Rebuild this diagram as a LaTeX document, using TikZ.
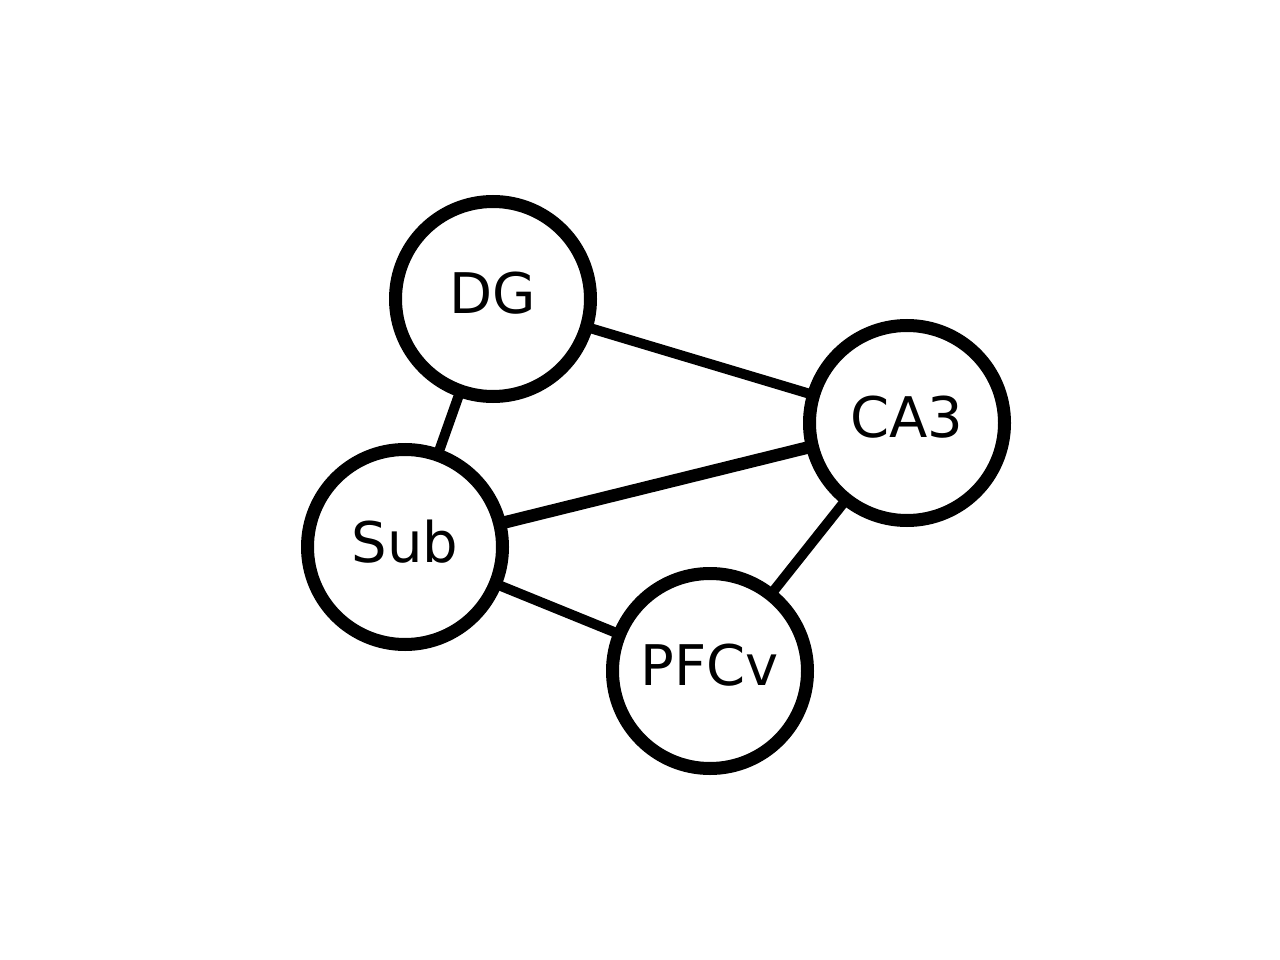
\documentclass[tikz,border=0pt]{standalone}
\usepackage{fontspec}
\setmainfont{DejaVu Sans}
\usetikzlibrary{backgrounds}
\tikzset{
  region/.style={circle, draw=black, fill=white, line width=13pt, minimum size=195pt, inner sep=0pt,
    text depth=12pt, font=\fontsize{56pt}{60pt}\selectfont},
  link/.style={draw=black, line width=10pt},
  strong link/.style={link, line width=12.5pt}
}
\begin{document}
\begin{tikzpicture}[x=1pt,y=-1pt]
\path[use as bounding box] (0,0) rectangle (1280,960);
\node[region] (DG) at (493,299) {DG};
\node[region] (CA3) at (907,423) {CA3};
\node[region] (Sub) at (405,547) {Sub};
\node[region] (PFCv) at (710,671) {PFCv};
\begin{scope}[on background layer]
\draw[link] (DG.center) -- (CA3.center);
\draw[link] (DG.center) -- (Sub.center);
\draw[strong link] (Sub.center) -- (CA3.center);
\draw[link] (Sub.center) -- (PFCv.center);
\draw[link] (CA3.center) -- (PFCv.center);
\end{scope}
\end{tikzpicture}
\end{document}
